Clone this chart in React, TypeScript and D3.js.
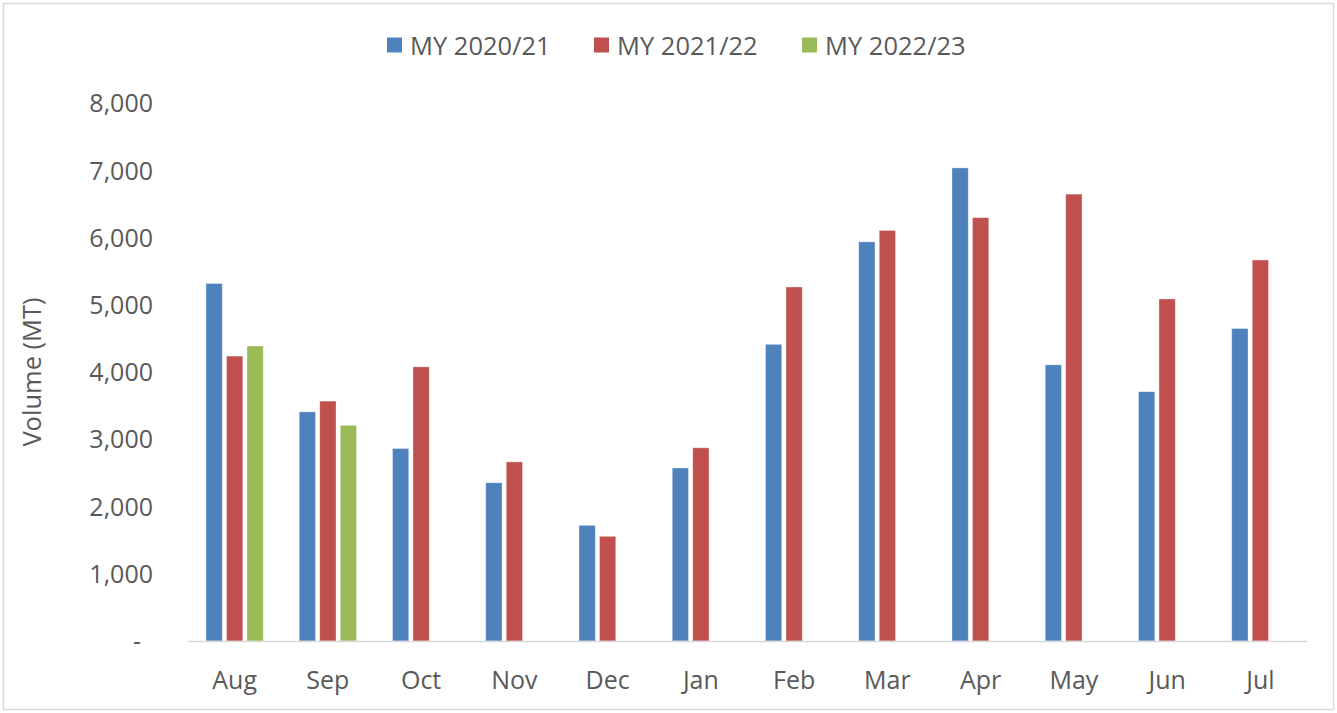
import React from "react";
import * as d3 from "d3";

const months = ["Aug", "Sep", "Oct", "Nov", "Dec", "Jan", "Feb", "Mar", "Apr", "May", "Jun", "Jul"];
const seriesNames = ["MY 2020/21", "MY 2021/22", "MY 2022/23"];
const my2021 = [5320, 3410, 2865, 2355, 1722, 2575, 4415, 5940, 7040, 4110, 3710, 4650];
const my2122 = [4240, 3570, 4080, 2665, 1558, 2875, 5268, 6110, 6300, 6650, 5090, 5670];
const my2223: (number | null)[] = [4390, 3210, null, null, null, null, null, null, null, null, null, null];
const seriesColors = ["#4F81BD", "#C0504D", "#9BBB59"];
const yTicks = [0, 1000, 2000, 3000, 4000, 5000, 6000, 7000, 8000];

const W = 1337;
const H = 713;
const FONT = "'Open Sans', 'Noto Sans', sans-serif";
const TEXT = "#595959";

export default function App() {
  const seriesValues = [my2021, my2122, my2223];
  const x = d3.scaleBand<string>().domain(months).range([188, 1307]).padding(0);
  const groupW = 57.3;
  const xi = d3.scaleBand<string>().domain(seriesNames).range([0, groupW]).paddingInner(0.205).paddingOuter(0);
  const y = d3.scaleLinear().domain([0, 8000]).range([641, 103.4]);
  const fmt = d3.format(",");
  const off = (x.bandwidth() - groupW) / 2;

  const legendX = [387, 594, 802];

  return (
    <svg width={W} height={H} style={{ position: "absolute", left: 0, top: 0, fontFamily: FONT }}>
      <rect x={0} y={0} width={W} height={H} fill="#fff" />
      <rect x={3.5} y={3.5} width={W - 7} height={H - 7} fill="none" stroke="#d9d9d9" strokeWidth={1.5} />
      {/* legend */}
      {seriesNames.map((s, i) => (
        <g key={s}>
          <rect x={legendX[i]} y={37.5} width={15} height={15} fill={seriesColors[i]} />
          <text x={legendX[i] + 23} y={54.5} fontSize={25.5} fill={TEXT}>{s}</text>
        </g>
      ))}
      {/* y ticks */}
      {yTicks.map((t) => (
        <text
          key={t}
          x={t === 0 ? 141 : 153}
          y={y(t)}
          dy="0.36em"
          textAnchor="end"
          fontSize={25}
          fill={TEXT}
        >
          {t === 0 ? "-" : fmt(t)}
        </text>
      ))}
      <text
        transform={`translate(32,${372}) rotate(-90)`}
        textAnchor="middle"
        dy="0.36em"
        fontSize={25.5}
        fill={TEXT}
      >
        Volume (MT)
      </text>
      {/* bars */}
      {seriesValues.map((vals, si) =>
        vals.map((v, mi) =>
          v == null ? null : (
            <rect
              key={`${si}-${mi}`}
              x={(x(months[mi]) as number) + off + (xi(seriesNames[si]) as number)}
              y={y(v)}
              width={xi.bandwidth()}
              height={y(0) - y(v)}
              fill={seriesColors[si]}
              stroke="#ffffff"
              strokeOpacity={0.45}
              strokeWidth={0.8}
            />
          )
        )
      )}
      {/* axis line */}
      <line x1={188} x2={1307} y1={641.5} y2={641.5} stroke="#d9d9d9" strokeWidth={1.5} />
      {/* x labels */}
      {months.map((m) => (
        <text
          key={m}
          x={(x(m) as number) + x.bandwidth() / 2}
          y={680}
          dy="0.36em"
          textAnchor="middle"
          fontSize={25}
          fill={TEXT}
        >
          {m}
        </text>
      ))}
    </svg>
  );
}
